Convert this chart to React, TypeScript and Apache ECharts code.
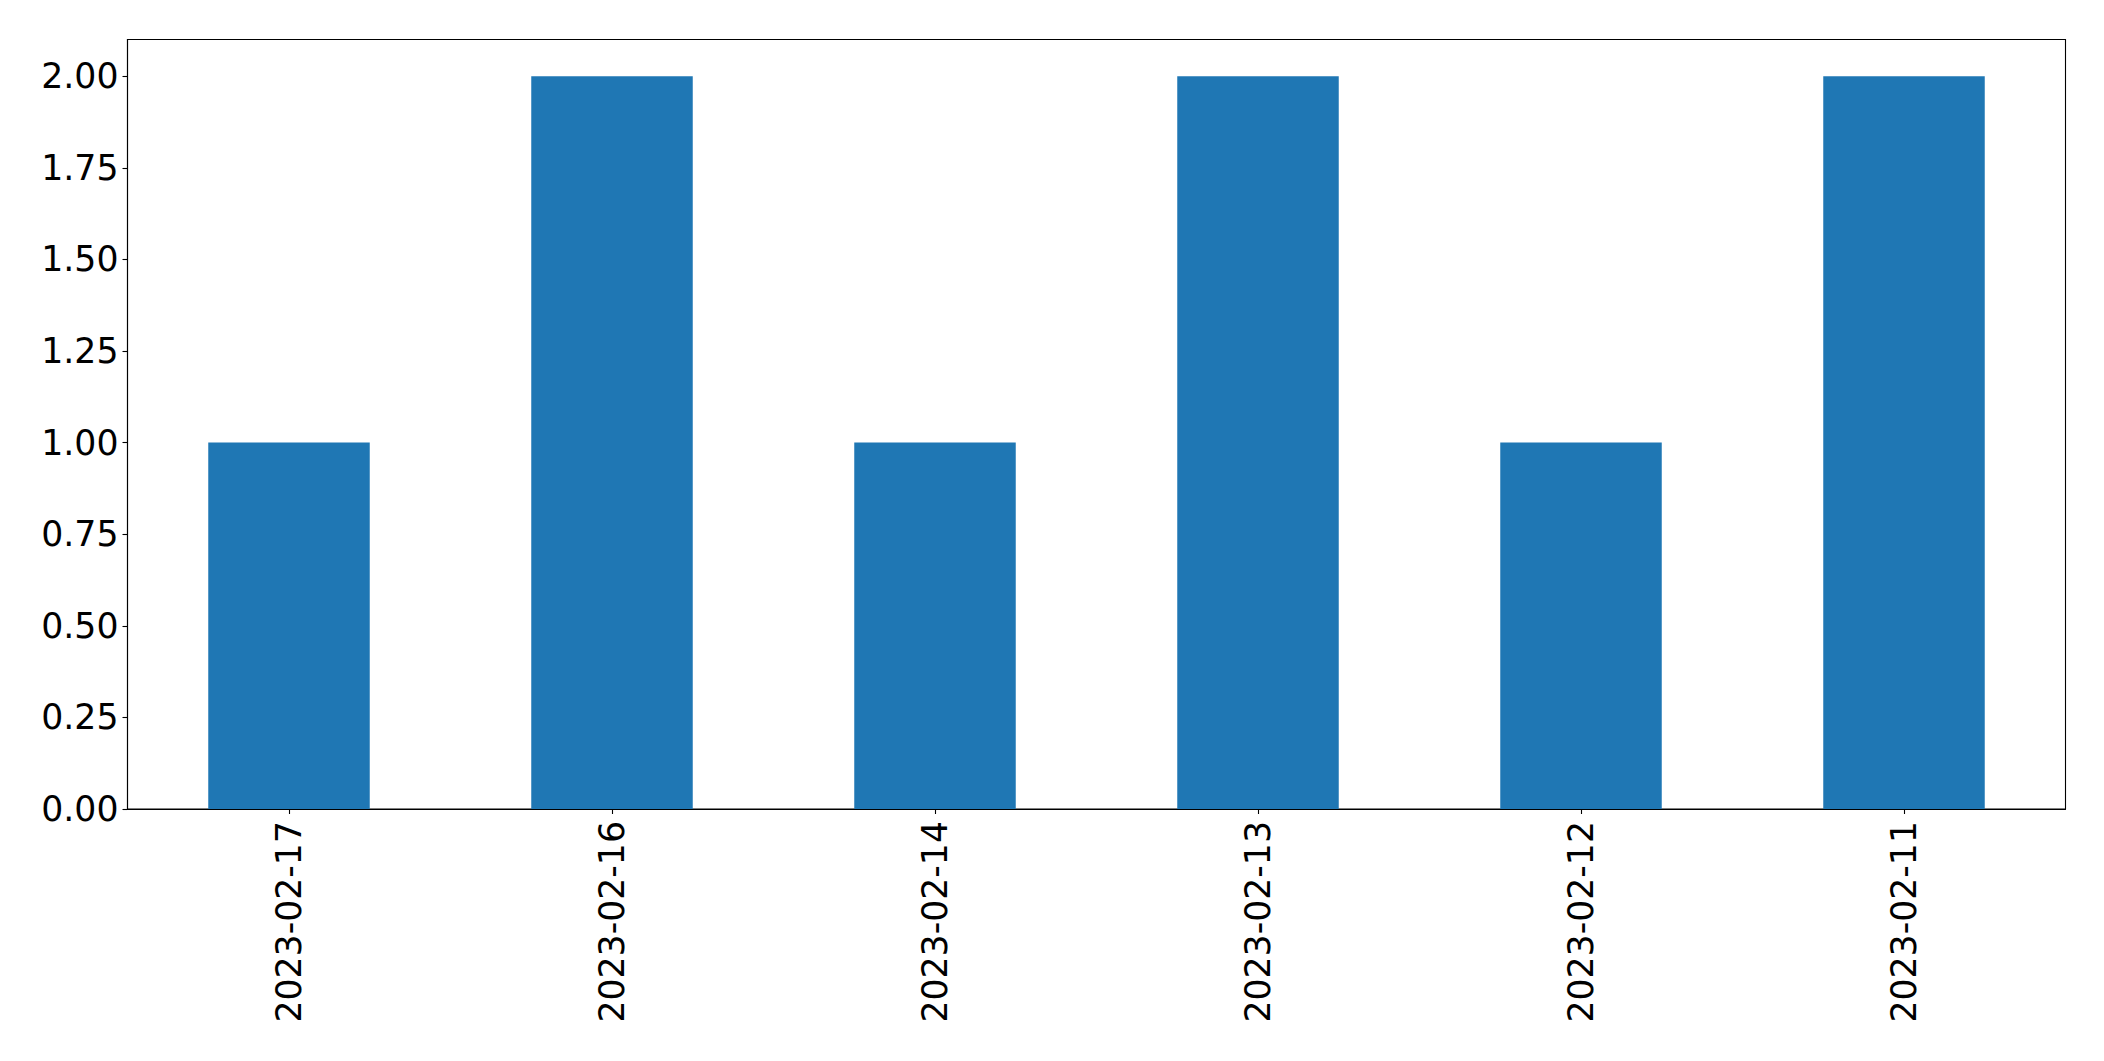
import React, { useEffect, useRef } from "react";
import * as echarts from "echarts";

const categories = ["2023-02-17", "2023-02-16", "2023-02-14", "2023-02-13", "2023-02-12", "2023-02-11"];
const values = [1, 2, 1, 2, 1, 2];
const yTicks = [0, 0.25, 0.5, 0.75, 1.0, 1.25, 1.5, 1.75, 2.0];

export default function App() {
  const ref = useRef<HTMLDivElement>(null);
  useEffect(() => {
    document.body.style.margin = "0";
    const chart = echarts.init(ref.current!, null, { renderer: "svg" });
    const font = "DejaVu Sans";
    chart.setOption({
      animation: false,
      backgroundColor: "#ffffff",
      grid: {
        left: 127.5,
        top: 39.5,
        right: 38.5,
        bottom: 252,
        show: true,
        borderColor: "#000000",
        borderWidth: 1.1,
        containLabel: false,
      },
      xAxis: {
        type: "category",
        data: categories,
        boundaryGap: true,
        axisLine: { show: true, lineStyle: { color: "#000000", width: 1.1 } },
        axisTick: { show: true, alignWithLabel: true, length: 5, lineStyle: { color: "#000000", width: 1.1 } },
        axisLabel: {
          rotate: 90,
          color: "#000000",
          fontFamily: font,
          fontSize: 34.7,
          margin: 12,
          interval: 0,
        },
        splitLine: { show: false },
      },
      yAxis: {
        type: "value",
        min: 0,
        max: 2.1,
        axisLine: { show: true, lineStyle: { color: "#000000", width: 1.1 } },
        axisTick: { show: true, length: 5, lineStyle: { color: "#000000", width: 1.1 }, customValues: yTicks },
        axisLabel: {
          color: "#000000",
          fontFamily: font,
          fontSize: 34.7,
          margin: 9,
          customValues: yTicks,
          formatter: (v: number) => v.toFixed(2),
        },
        splitLine: { show: false },
      },
      series: [
        {
          type: "bar",
          data: values,
          barWidth: "50%",
          itemStyle: { color: "#1f77b4" },
        },
      ],
    });
    return () => chart.dispose();
  }, []);
  return <div ref={ref} style={{ width: 2104, height: 1061, position: "absolute", left: 0, top: 0 }} />;
}
